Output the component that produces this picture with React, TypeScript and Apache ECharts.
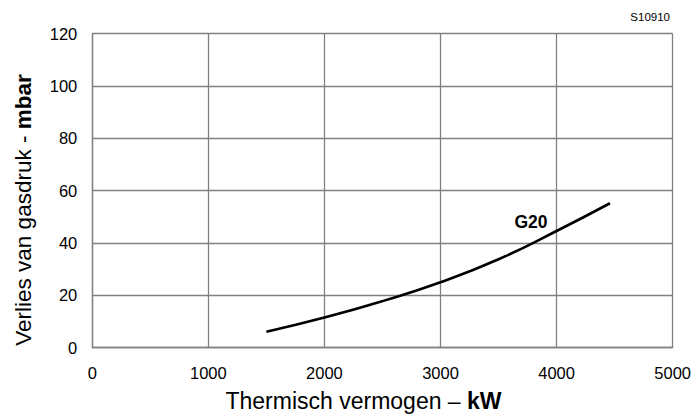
import React, { useEffect, useRef } from "react";
import * as echarts from "echarts";

const powerKW = [1500, 2000, 2500, 3000, 3500, 4000, 4460];
const pressureLoss = [6.1, 11.5, 17.8, 25.0, 33.8, 44.6, 55.2];
const seriesName = "G20";
const codeLabel = "S10910";

export default function App() {
  const ref = useRef<HTMLDivElement>(null);
  useEffect(() => {
    const chart = echarts.init(ref.current!, null, { renderer: "svg" });
    const font = "'Liberation Sans', Arial, sans-serif";
    chart.setOption({
      animation: false,
      textStyle: { fontFamily: font },
      grid: { left: 92.3, right: 20.7, top: 33.7, bottom: 66.3, containLabel: false },
      xAxis: {
        type: "value",
        min: 0,
        max: 5000,
        interval: 1000,
        axisLine: { show: true, lineStyle: { color: "#808080", width: 1.3 } },
        axisTick: { show: false },
        splitLine: { show: true, lineStyle: { color: "#808080", width: 1.3 } },
        axisLabel: {
          color: "#000",
          fontSize: 16.5,
          margin: 17,
          fontFamily: font,
          formatter: (v: number) => String(v),
        },
      },
      yAxis: {
        type: "value",
        min: 0,
        max: 120,
        interval: 20,
        axisLine: { show: true, lineStyle: { color: "#808080", width: 1.3 } },
        axisTick: { show: false },
        splitLine: { show: true, lineStyle: { color: "#808080", width: 1.3 } },
        axisLabel: { color: "#000", fontSize: 16.5, margin: 15, fontFamily: font },
      },
      graphic: [
        {
          type: "text",
          x: 23,
          y: 210,
          rotation: Math.PI / 2,
          style: {
            text: "{n|Verlies van gasdruk - }{b|mbar}",
            align: "center",
            verticalAlign: "middle",
            rich: {
              n: { fontSize: 22.5, fill: "#000", fontFamily: font },
              b: { fontSize: 22.5, fill: "#000", fontWeight: "bold", fontFamily: font },
            },
          },
        },
        {
          type: "text",
          x: 363.5,
          y: 401,
          style: {
            text: "{n|Thermisch vermogen – }{b|kW}",
            align: "center",
            verticalAlign: "middle",
            rich: {
              n: { fontSize: 23, fill: "#000", fontFamily: font },
              b: { fontSize: 23, fill: "#000", fontWeight: "bold", fontFamily: font },
            },
          },
        },
        {
          type: "text",
          right: 24,
          top: 11,
          style: { text: codeLabel, fontSize: 11.5, fill: "#000", fontFamily: font },
        },
        {
          type: "text",
          x: 531,
          y: 222,
          style: {
            text: seriesName,
            align: "center",
            verticalAlign: "middle",
            fontSize: 17.5,
            fontWeight: "bold",
            fill: "#000",
            fontFamily: font,
          },
        },
      ],
      series: [
        {
          type: "line",
          name: seriesName,
          data: powerKW.map((x, i) => [x, pressureLoss[i]]),
          smooth: true,
          showSymbol: false,
          lineStyle: { color: "#000", width: 2.6 },
        },
      ],
    });
    return () => chart.dispose();
  }, []);
  return <div ref={ref} style={{ width: 694, height: 414, position: "absolute", left: 0, top: 0 }} />;
}
